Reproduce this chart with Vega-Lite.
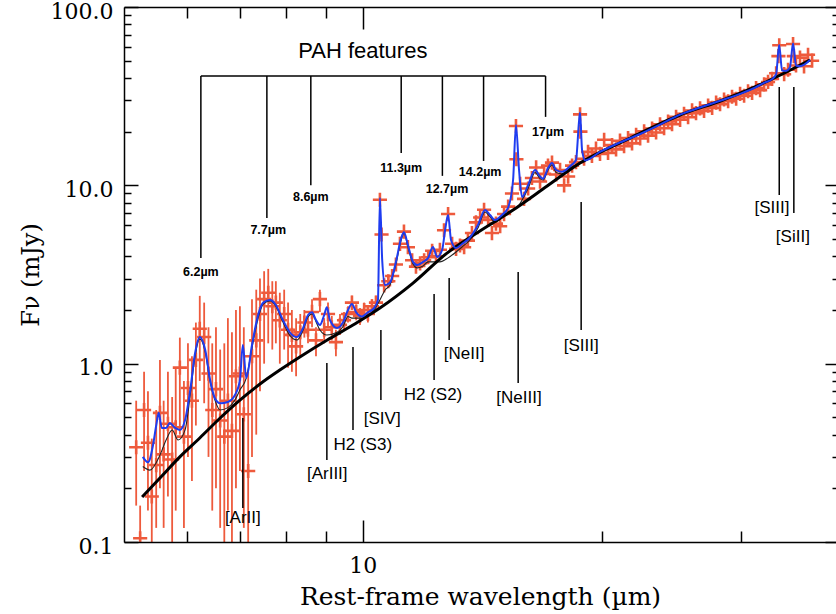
{
 "$schema": "https://vega.github.io/schema/vega-lite/v6.json",
 "width": 712, "height": 535,
 "autosize": {"type": "none"},
 "padding": {"left": 124, "top": 7, "right": 0, "bottom": 72},
 "background": "white",
 "config": {"view": {"stroke": null}, "axis": {"grid": false}},
 "datasets": {
  "pts": [
   {"w":5.18,"f":0.34,"l":0.16,"h":0.62},{"w":5.24,"f":0.105,"l":0.08,"h":0.16},{"w":5.30,"f":0.55,"l":0.25,"h":0.9},{"w":5.36,"f":0.36,"l":0.15,"h":0.7},
   {"w":5.42,"f":0.18,"l":0.09,"h":0.38},{"w":5.49,"f":0.27,"l":0.12,"h":0.55},{"w":5.55,"f":0.53,"l":0.2,"h":1.05},{"w":5.61,"f":0.31,"l":0.12,"h":0.62},
   {"w":5.68,"f":0.46,"l":0.18,"h":0.9},{"w":5.75,"f":0.29,"l":0.1,"h":0.65},{"w":5.81,"f":0.44,"l":0.15,"h":0.95},{"w":5.88,"f":0.95,"l":0.4,"h":1.4},
   {"w":5.95,"f":0.39,"l":0.12,"h":0.8},{"w":6.02,"f":0.73,"l":0.3,"h":1.3},{"w":6.09,"f":0.62,"l":0.22,"h":1.1},{"w":6.16,"f":1.05,"l":0.45,"h":1.7},
   {"w":6.23,"f":1.57,"l":0.8,"h":2.4},{"w":6.31,"f":1.41,"l":0.6,"h":2.2},{"w":6.39,"f":0.88,"l":0.3,"h":1.6},{"w":6.46,"f":0.55,"l":0.15,"h":1.3},
   {"w":6.53,"f":0.72,"l":0.2,"h":1.6},{"w":6.61,"f":0.48,"l":0.12,"h":1.2},{"w":6.69,"f":0.39,"l":0.1,"h":1.3},{"w":6.76,"f":0.62,"l":0.15,"h":1.8},
   {"w":6.84,"f":0.42,"l":0.1,"h":1.5},{"w":6.92,"f":0.85,"l":0.2,"h":2.0},{"w":7.00,"f":0.88,"l":0.25,"h":2.1},{"w":7.08,"f":0.52,"l":0.12,"h":1.6},
   {"w":7.17,"f":0.25,"l":0.1,"h":0.9},{"w":7.25,"f":1.1,"l":0.3,"h":2.3},{"w":7.34,"f":1.35,"l":0.4,"h":2.6},{"w":7.42,"f":1.9,"l":0.7,"h":3.0},
   {"w":7.51,"f":2.3,"l":1.0,"h":3.3},{"w":7.60,"f":2.5,"l":1.3,"h":3.4},{"w":7.69,"f":2.1,"l":1.2,"h":2.9},{"w":7.77,"f":2.2,"l":1.3,"h":2.9},
   {"w":7.86,"f":1.75,"l":1.0,"h":2.5},{"w":7.96,"f":1.9,"l":1.2,"h":2.6},{"w":8.05,"f":1.55,"l":0.95,"h":2.2},{"w":8.14,"f":1.45,"l":0.9,"h":2.0},
   {"w":8.24,"f":1.25,"l":0.85,"h":1.8},{"w":8.34,"f":1.5,"l":1.1,"h":1.9},
   {"w":8.44,"f":1.7,"l":1.4,"h":2.0},{"w":8.53,"f":1.55,"l":1.3,"h":1.85},{"w":8.63,"f":1.95,"l":1.6,"h":2.3},{"w":8.73,"f":1.35,"l":1.1,"h":1.6},
   {"w":8.83,"f":2.3,"l":1.95,"h":2.6},{"w":8.94,"f":1.55,"l":1.3,"h":1.8},{"w":9.04,"f":1.9,"l":1.6,"h":2.2},{"w":9.14,"f":1.6,"l":1.35,"h":1.85},
   {"w":9.25,"f":1.32,"l":1.1,"h":1.55},{"w":9.36,"f":1.65,"l":1.45,"h":1.9},{"w":9.47,"f":1.75,"l":1.55,"h":1.95},{"w":9.58,"f":1.9,"l":1.7,"h":2.1},
   {"w":9.69,"f":2.2,"l":2.0,"h":2.4},{"w":9.81,"f":1.95,"l":1.75,"h":2.15},{"w":9.92,"f":1.85,"l":1.65,"h":2.05},{"w":10.04,"f":2.0,"l":1.8,"h":2.2},
   {"w":10.15,"f":1.9,"l":1.7,"h":2.1},{"w":10.27,"f":2.1,"l":1.9,"h":2.3},{"w":10.39,"f":2.2,"l":2.0,"h":2.4},{"w":10.51,"f":8.3,"l":7.8,"h":8.8},
   {"w":10.56,"f":5.3,"l":5.0,"h":5.6},{"w":10.64,"f":2.75,"l":2.55,"h":2.95},{"w":10.77,"f":2.9,"l":2.7,"h":3.1},{"w":10.89,"f":3.1,"l":2.9,"h":3.3},
   {"w":11.01,"f":3.6,"l":3.35,"h":3.85},{"w":11.14,"f":4.7,"l":4.4,"h":5.0},{"w":11.27,"f":5.5,"l":5.2,"h":5.8},{"w":11.40,"f":4.5,"l":4.25,"h":4.75},
   {"w":11.54,"f":3.8,"l":3.6,"h":4.0},{"w":11.67,"f":3.5,"l":3.3,"h":3.7},{"w":11.81,"f":3.65,"l":3.45,"h":3.85},{"w":11.95,"f":3.8,"l":3.6,"h":4.0},
   {"w":12.09,"f":3.95,"l":3.75,"h":4.15},{"w":12.23,"f":4.3,"l":4.1,"h":4.5},{"w":12.37,"f":4.0,"l":3.8,"h":4.2},{"w":12.51,"f":4.35,"l":4.15,"h":4.55},
   {"w":12.66,"f":5.6,"l":5.35,"h":5.85},{"w":12.81,"f":6.9,"l":6.6,"h":7.2},{"w":12.96,"f":4.7,"l":4.5,"h":4.9},{"w":13.11,"f":4.4,"l":4.2,"h":4.6},
   {"w":13.26,"f":4.6,"l":4.4,"h":4.8},{"w":13.42,"f":4.5,"l":4.3,"h":4.7},{"w":13.57,"f":4.9,"l":4.7,"h":5.1},{"w":13.73,"f":5.4,"l":5.1,"h":5.7},
   {"w":13.89,"f":6.2,"l":5.9,"h":6.5},{"w":14.06,"f":6.6,"l":6.3,"h":6.9},
   {"w":14.22,"f":7.3},{"w":14.39,"f":6.4},{"w":14.55,"f":5.4},{"w":14.72,"f":6.1},{"w":14.90,"f":5.9},{"w":15.07,"f":6.9},{"w":15.25,"f":7.6},{"w":15.42,"f":9.0},
   {"w":15.60,"f":21.5},{"w":15.62,"f":14.0},{"w":15.79,"f":10.2},{"w":15.97,"f":8.4},{"w":16.16,"f":9.6},{"w":16.34,"f":11.0},{"w":16.54,"f":12.6},{"w":16.73,"f":10.5},
   {"w":16.93,"f":11.6},{"w":17.12,"f":12.9},{"w":17.32,"f":13.4},{"w":17.53,"f":11.5},{"w":17.73,"f":12.2},{"w":17.94,"f":10.0},{"w":18.15,"f":11.2},{"w":18.36,"f":12.9},
   {"w":18.57,"f":13.5},{"w":18.79,"f":25.0},{"w":18.81,"f":20.0},{"w":19.01,"f":14.1},{"w":19.23,"f":15.4},{"w":19.45,"f":14.6},{"w":19.68,"f":16.1},{"w":19.91,"f":15.0},
   {"w":20.15,"f":18.0},{"w":20.38,"f":15.2},{"w":20.62,"f":16.8},{"w":20.86,"f":15.9},{"w":21.10,"f":17.8},{"w":21.35,"f":16.6},{"w":21.60,"f":18.4},{"w":21.85,"f":17.2},
   {"w":22.11,"f":19.2},{"w":22.37,"f":18.3},{"w":22.63,"f":20.1},{"w":22.89,"f":19.0},{"w":23.16,"f":20.8},{"w":23.43,"f":19.8},{"w":23.70,"f":22.0},{"w":23.98,"f":20.9},
   {"w":24.26,"f":22.8},{"w":24.54,"f":22.0},{"w":24.83,"f":24.2},{"w":25.12,"f":23.3},{"w":25.41,"f":25.2},{"w":25.71,"f":24.1},{"w":26.01,"f":26.3},{"w":26.31,"f":25.4},
   {"w":26.62,"f":27.0},{"w":26.93,"f":26.1},{"w":27.25,"f":28.0},{"w":27.57,"f":27.2},{"w":27.89,"f":29.1},{"w":28.21,"f":28.5},{"w":28.54,"f":30.3},{"w":28.88,"f":29.6},
   {"w":29.21,"f":31.4},{"w":29.56,"f":30.6},{"w":29.90,"f":32.6},{"w":30.25,"f":31.8},{"w":30.60,"f":33.7},{"w":30.96,"f":33.0},{"w":31.32,"f":35.1},{"w":31.69,"f":34.2},
   {"w":32.06,"f":36.8},{"w":32.43,"f":38.0},{"w":32.81,"f":39.5},{"w":33.20,"f":42.5},{"w":33.42,"f":53.0},{"w":33.50,"f":61.0},{"w":33.98,"f":42.0},{"w":34.37,"f":44.5},
   {"w":34.87,"f":62.0},{"w":34.95,"f":53.0},{"w":35.17,"f":47.0},{"w":35.58,"f":52.0},{"w":36.00,"f":46.5},{"w":36.42,"f":54.0},{"w":36.85,"f":50.0}
  ],
  "blue": [
   {"w":5.28,"f":0.30},{"w":5.36,"f":0.28},{"w":5.44,"f":0.35},{"w":5.49,"f":0.45},{"w":5.53,"f":0.53},{"w":5.58,"f":0.436},{"w":5.65,"f":0.436},{"w":5.71,"f":0.465},
   {"w":5.80,"f":0.436},{"w":5.88,"f":0.425},{"w":5.97,"f":0.483},{"w":6.06,"f":0.712},{"w":6.14,"f":1.118},{"w":6.23,"f":1.41},{"w":6.33,"f":1.193},{"w":6.42,"f":0.81},
   {"w":6.51,"f":0.64},{"w":6.61,"f":0.60},{"w":6.76,"f":0.61},{"w":6.90,"f":0.667},{"w":7.00,"f":0.81},{"w":7.06,"f":1.273},{"w":7.13,"f":0.83},{"w":7.25,"f":1.273},
   {"w":7.38,"f":1.875},{"w":7.49,"f":2.2},{"w":7.64,"f":2.275},{"w":7.77,"f":2.133},{"w":7.91,"f":1.80},{"w":8.10,"f":1.49},{"w":8.26,"f":1.41},{"w":8.41,"f":1.585},
   {"w":8.53,"f":1.875},{"w":8.63,"f":1.94},{"w":8.73,"f":1.757},{"w":8.83,"f":1.647},{"w":8.94,"f":1.875},{"w":9.01,"f":2.07},{"w":9.09,"f":1.757},{"w":9.28,"f":1.585},
   {"w":9.44,"f":1.70},{"w":9.58,"f":2.0},{"w":9.69,"f":2.16},{"w":9.81,"f":1.94},{"w":9.98,"f":1.84},{"w":10.15,"f":1.94},{"w":10.33,"f":2.05},{"w":10.45,"f":2.275},
   {"w":10.51,"f":8.5},{"w":10.58,"f":3.81},{"w":10.67,"f":2.76},{"w":10.82,"f":2.85},{"w":11.01,"f":3.72},{"w":11.18,"f":5.06},{"w":11.27,"f":5.45},{"w":11.40,"f":4.63},
   {"w":11.57,"f":3.72},{"w":11.71,"f":3.57},{"w":11.91,"f":3.72},{"w":12.09,"f":3.92},{"w":12.26,"f":4.51},{"w":12.41,"f":3.97},{"w":12.59,"f":4.34},{"w":12.70,"f":5.62},
   {"w":12.81,"f":6.82},{"w":12.92,"f":4.94},{"w":13.11,"f":4.45},{"w":13.34,"f":4.69},{"w":13.65,"f":5.10},{"w":13.97,"f":5.99},{"w":14.26,"f":7.27},{"w":14.47,"f":6.82},
   {"w":14.68,"f":6.39},{"w":14.98,"f":6.82},{"w":15.25,"f":7.5},{"w":15.47,"f":10.71},{"w":15.60,"f":21.8},{"w":15.74,"f":12.19},{"w":15.88,"f":8.6},{"w":16.16,"f":10.04},
   {"w":16.49,"f":12.19},{"w":16.73,"f":11.2},{"w":16.88,"f":10.9},{"w":17.12,"f":12.5},{"w":17.32,"f":13.34},{"w":17.53,"f":12.19},{"w":17.83,"f":11.9},{"w":18.25,"f":12.8},
   {"w":18.57,"f":13.87},{"w":18.74,"f":23.25},{"w":18.79,"f":25.5},{"w":18.90,"f":15.78},{"w":19.07,"f":13.8},{"w":19.91,"f":15.4},{"w":21.10,"f":17.4},{"w":22.37,"f":19.4},
   {"w":23.70,"f":21.9},{"w":25.12,"f":24.9},{"w":26.62,"f":27.3},{"w":28.21,"f":29.8},{"w":29.90,"f":32.6},{"w":31.23,"f":35.3},{"w":32.15,"f":37.8},{"w":32.81,"f":39.4},
   {"w":33.20,"f":42.0},{"w":33.49,"f":61.2},{"w":33.78,"f":44.0},{"w":34.16,"f":43.8},{"w":34.56,"f":46.0},{"w":34.87,"f":62.5},{"w":35.17,"f":47.0},{"w":35.58,"f":46.5},
   {"w":36.63,"f":50.4}
  ],
  "pah": [
   {"w":5.28,"f":0.265},{"w":5.39,"f":0.253},{"w":5.55,"f":0.307},{"w":5.65,"f":0.373},{"w":5.75,"f":0.425},{"w":5.85,"f":0.373},{"w":5.97,"f":0.425},{"w":6.06,"f":0.667},
   {"w":6.14,"f":1.07},{"w":6.23,"f":1.375},{"w":6.33,"f":1.16},{"w":6.42,"f":0.79},{"w":6.51,"f":0.625},{"w":6.61,"f":0.55},{"w":6.76,"f":0.567},{"w":6.90,"f":0.625},
   {"w":7.00,"f":0.712},{"w":7.13,"f":0.83},{"w":7.25,"f":1.225},{"w":7.38,"f":1.80},{"w":7.49,"f":2.16},{"w":7.64,"f":2.25},{"w":7.77,"f":2.1},{"w":7.91,"f":1.757},
   {"w":8.10,"f":1.43},{"w":8.26,"f":1.357},{"w":8.41,"f":1.545},{"w":8.53,"f":1.83},{"w":8.63,"f":1.90},{"w":8.73,"f":1.72},{"w":8.83,"f":1.545},{"w":9.01,"f":1.448},
   {"w":9.28,"f":1.5},{"w":9.44,"f":1.61},{"w":9.58,"f":1.84},{"w":9.69,"f":1.80},{"w":9.98,"f":1.80},{"w":10.33,"f":2.0},{"w":10.51,"f":2.275},{"w":10.67,"f":2.589},
   {"w":10.82,"f":2.761},{"w":11.01,"f":3.62},{"w":11.18,"f":4.94},{"w":11.27,"f":5.41},{"w":11.40,"f":4.51},{"w":11.57,"f":3.62},{"w":11.71,"f":3.44},{"w":11.91,"f":3.53},
   {"w":12.09,"f":3.72},{"w":12.26,"f":3.72},{"w":12.51,"f":3.72},{"w":12.81,"f":3.92},{"w":13.11,"f":4.23},{"w":13.34,"f":4.51},{"w":13.65,"f":4.94},{"w":13.97,"f":5.76},
   {"w":14.26,"f":7.09},{"w":14.47,"f":6.65},{"w":14.68,"f":6.22},{"w":14.98,"f":6.56},{"w":15.25,"f":7.09},{"w":15.47,"f":7.27},{"w":15.74,"f":7.76},{"w":15.88,"f":8.27},
   {"w":16.16,"f":9.6},{"w":16.49,"f":11.8},{"w":16.73,"f":10.9},{"w":16.88,"f":10.71},{"w":17.12,"f":12.19},{"w":17.32,"f":13.0},{"w":17.53,"f":11.8},{"w":17.83,"f":11.6},
   {"w":18.25,"f":12.5},{"w":18.57,"f":13.0},{"w":18.79,"f":13.4},{"w":19.1,"f":13.6}
  ],
  "cont": [
   {"w":5.27,"f":0.179},{"w":5.55,"f":0.2285},{"w":5.88,"f":0.30},{"w":6.23,"f":0.383},{"w":6.61,"f":0.496},{"w":7.00,"f":0.625},{"w":7.42,"f":0.769},{"w":7.86,"f":0.921},
   {"w":8.33,"f":1.09},{"w":9.02,"f":1.357},{"w":9.72,"f":1.647},{"w":10.51,"f":2.05},{"w":11.57,"f":2.83},{"w":12.77,"f":4.17},{"w":14.05,"f":5.55},{"w":15.47,"f":7.27},
   {"w":17.08,"f":9.91},{"w":18.79,"f":13.34},{"w":21.73,"f":18.4},{"w":25.12,"f":24.8},{"w":28.45,"f":30.1},{"w":32.62,"f":38.96},{"w":36.63,"f":50.45}
  ],
  "vr": [
   {"w":6.25,"f":41.0,"f2":3.91},{"w":7.57,"f":41.0,"f2":6.56},{"w":8.6,"f":41.0,"f2":10.0},{"w":11.18,"f":41.0,"f2":15.2},
   {"w":12.6,"f":41.0,"f2":11.3},{"w":14.2,"f":41.0,"f2":13.7},{"w":17.0,"f":41.0,"f2":24.2},
   {"w":7.06,"f":0.496,"f2":0.155},{"w":9.01,"f":1.0086,"f2":0.288},{"w":9.72,"f":1.24,"f2":0.4246},{"w":10.54,"f":1.545,"f2":0.6254},
   {"w":12.3,"f":2.458,"f2":0.81},{"w":12.85,"f":3.022,"f2":1.357},{"w":15.7,"f":3.266,"f2":0.779},{"w":18.85,"f":8.065,"f2":1.545},
   {"w":33.5,"f":35.6,"f2":8.83},{"w":34.95,"f":35.6,"f2":7.0}
  ],
  "hr": [{"w":6.25,"w2":17.0,"f":41.0}],
  "pahlab": [
   {"w":6.25,"f":3.27,"t":"6.2µm"},{"w":7.6,"f":5.62,"t":"7.7µm"},{"w":8.6,"f":8.6,"t":"8.6µm"},{"w":11.18,"f":12.5,"t":"11.3µm"},
   {"w":12.77,"f":9.54,"t":"12.7µm"},{"w":14.06,"f":11.9,"t":"14.2µm"},{"w":17.12,"f":19.9,"t":"17µm"}
  ],
  "linelab": [
   {"w":7.06,"f":0.136,"t":"[ArII]"},{"w":9.02,"f":0.2406,"t":"[ArIII]"},{"w":10.0,"f":0.35,"t":"H2 (S3)"},{"w":10.58,"f":0.4895,"t":"[SIV]"},
   {"w":12.26,"f":0.667,"t":"H2 (S2)"},{"w":13.42,"f":1.133,"t":"[NeII]"},{"w":15.74,"f":0.642,"t":"[NeIII]"},{"w":18.85,"f":1.256,"t":"[SIII]"},
   {"w":32.8,"f":7.46,"t":"[SIII]"},{"w":34.85,"f":5.13,"t":"[SiII]"}
  ],
  "head": [{"w":10.0,"f":56.7,"t":"PAH features"}]
 },
 "encoding": {
  "x": {"field": "w", "type": "quantitative", "scale": {"type": "log", "domain": [5, 39.5], "nice": false}, "axis": null},
  "y": {"field": "f", "type": "quantitative", "scale": {"type": "log", "domain": [0.1, 100], "nice": false}, "axis": null}
 },
 "layer": [
  {
   "data": {"name": "pts"},
   "transform": [{"filter": {"field": "l", "valid": true}}],
   "mark": {"type": "rule", "color": "#EE5A3C", "strokeWidth": 1.8, "clip": true},
   "encoding": {
    "y": {"field": "l", "type": "quantitative", "scale": {"type": "log", "domain": [0.1, 100], "nice": false}, "axis": null},
    "y2": {"field": "h"}
   }
  },
  {
   "data": {"name": "pts"},
   "mark": {"type": "point", "shape": "M-1,0H1M0,-1V1", "filled": false, "color": "#EE5A3C", "strokeWidth": 2.6, "size": 200, "opacity": 1, "clip": true},
   "encoding": {
    "x": {"field": "w", "type": "quantitative", "scale": {"type": "log", "domain": [5, 39.5], "nice": false},
     "axis": {"orient": "bottom", "values": [6, 7, 8, 9, 10, 20, 30], "labelExpr": "datum.value == 10 ? '10' : ''",
      "tickSize": {"condition": {"test": "datum.value == 10", "value": -22}, "value": -11},
      "labelPadding": 35, "labelFont": "DejaVu Serif", "labelFontSize": 22, "labelColor": "black", "labelOverlap": false, "labelFlush": false,
      "tickColor": "black", "tickWidth": 1.5, "domainColor": "black", "domainWidth": 1.5, "zindex": 1,
      "title": "Rest-frame wavelength (µm)", "titleFont": "DejaVu Serif", "titleFontSize": 25, "titleFontWeight": "normal", "titleColor": "black", "titlePadding": -3}},
    "y": {"field": "f", "type": "quantitative", "scale": {"type": "log", "domain": [0.1, 100], "nice": false},
     "axis": {"orient": "left", "values": [0.1,0.2,0.3,0.4,0.5,0.6,0.7,0.8,0.9,1,2,3,4,5,6,7,8,9,10,20,30,40,50,60,70,80,90,100],
      "labelExpr": "abs(log(datum.value)/LN10 - round(log(datum.value)/LN10)) < 0.01 ? format(datum.value, '.1f') : ''",
      "tickSize": {"condition": {"test": "abs(log(datum.value)/LN10 - round(log(datum.value)/LN10)) < 0.01", "value": -14}, "value": -7},
      "labelPadding": 25, "labelOffset": 4, "labelFont": "DejaVu Serif", "labelFontSize": 22, "labelColor": "black", "labelOverlap": false, "labelFlush": false,
      "tickColor": "black", "tickWidth": 1.5, "domainColor": "black", "domainWidth": 1.5, "zindex": 1,
      "title": "Fν (mJy)", "titleFont": "DejaVu Serif", "titleFontSize": 24, "titleFontWeight": "normal", "titleColor": "black", "titlePadding": 7}}
   }
  },
  {
   "data": {"name": "pah"},
   "mark": {"type": "line", "color": "#222222", "strokeWidth": 1.1, "interpolate": "monotone", "clip": true}
  },
  {
   "data": {"name": "cont"},
   "mark": {"type": "line", "color": "black", "strokeWidth": 3, "interpolate": "monotone", "clip": true},
   "encoding": {
    "x": {"field": "w", "type": "quantitative", "scale": {"type": "log", "domain": [5, 39.5], "nice": false},
     "axis": {"orient": "top", "values": [6, 7, 8, 9, 10, 20, 30], "labels": false, "title": null,
      "tickSize": {"condition": {"test": "datum.value == 10", "value": -22}, "value": -11},
      "tickColor": "black", "tickWidth": 1.5, "domainColor": "black", "domainWidth": 1.5, "zindex": 1}},
    "y": {"field": "f", "type": "quantitative", "scale": {"type": "log", "domain": [0.1, 100], "nice": false},
     "axis": {"orient": "right", "values": [0.1,0.2,0.3,0.4,0.5,0.6,0.7,0.8,0.9,1,2,3,4,5,6,7,8,9,10,20,30,40,50,60,70,80,90,100],
      "labels": false, "title": null, "domain": false,
      "tickSize": {"condition": {"test": "abs(log(datum.value)/LN10 - round(log(datum.value)/LN10)) < 0.01", "value": -11}, "value": -4},
      "tickColor": "black", "tickWidth": 1.5, "zindex": 1}}
   }
  },
  {
   "data": {"name": "blue"},
   "mark": {"type": "line", "color": "#1E3CF0", "strokeWidth": 2, "interpolate": "monotone", "clip": true}
  },
  {
   "data": {"name": "vr"},
   "mark": {"type": "rule", "color": "black", "strokeWidth": 1.5},
   "encoding": {"y2": {"field": "f2"}}
  },
  {
   "data": {"name": "hr"},
   "mark": {"type": "rule", "color": "black", "strokeWidth": 1.5},
   "encoding": {"x2": {"field": "w2"}}
  },
  {
   "data": {"name": "pahlab"},
   "mark": {"type": "text", "font": "Liberation Sans", "fontSize": 12.5, "fontWeight": "bold", "color": "black", "align": "center", "baseline": "middle"},
   "encoding": {"text": {"field": "t"}}
  },
  {
   "data": {"name": "linelab"},
   "mark": {"type": "text", "font": "Liberation Sans", "fontSize": 17, "color": "black", "align": "center", "baseline": "middle"},
   "encoding": {"text": {"field": "t"}}
  },
  {
   "data": {"name": "head"},
   "mark": {"type": "text", "font": "Liberation Sans", "fontSize": 22, "color": "black", "align": "center", "baseline": "middle"},
   "encoding": {"text": {"field": "t"}}
  }
 ],
 "resolve": {"axis": {"x": "independent", "y": "independent"}}
}
